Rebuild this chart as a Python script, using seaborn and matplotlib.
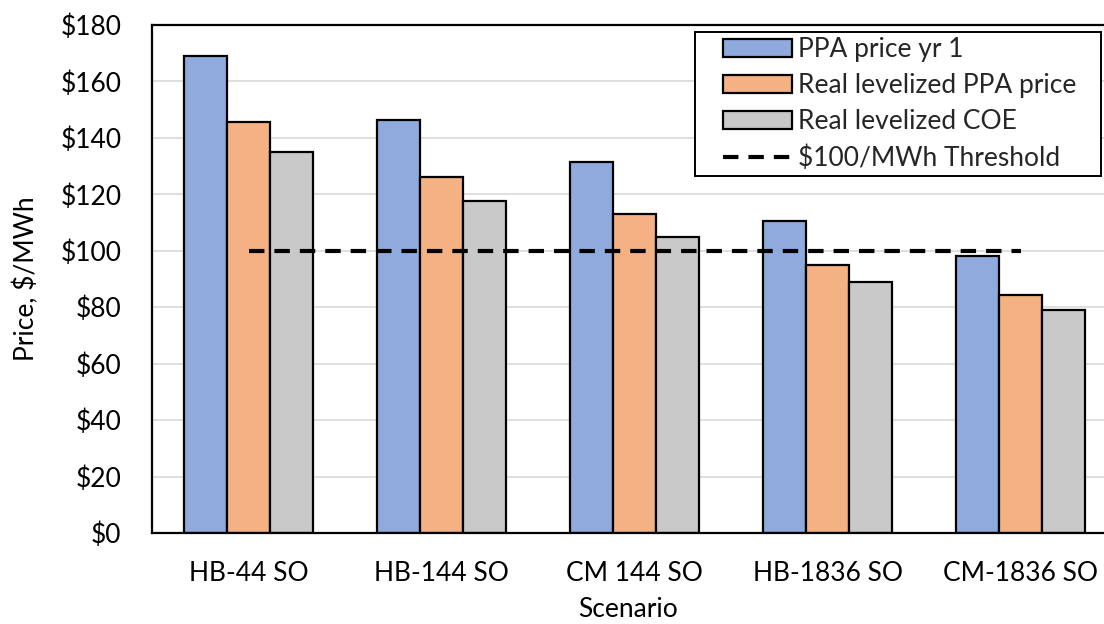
import numpy as np
import pandas as pd
import matplotlib
matplotlib.use("Agg")
import matplotlib.pyplot as plt
from matplotlib.legend_handler import HandlerPatch, HandlerLine2D
import seaborn as sns

# Scenario results, $/MWh
scenarios = ["HB-44 SO", "HB-144 SO", "CM 144 SO", "HB-1836 SO", "CM-1836 SO"]
ppa_price_yr1 = [169, 146.5, 131.5, 110.5, 98]
real_levelized_ppa = [145.5, 126, 113, 95, 84.5]
real_levelized_coe = [135, 117.5, 105, 89, 79]
threshold = [100, 100, 100, 100, 100]

series_names = ["PPA price yr 1", "Real levelized PPA price", "Real levelized COE"]
series_colors = ["#8FAADC", "#F4B183", "#C9C9C9"]
yticks = [0, 20, 40, 60, 80, 100, 120, 140, 160, 180]

df = pd.DataFrame({
    "Scenario": scenarios * 3,
    "Price": ppa_price_yr1 + real_levelized_ppa + real_levelized_coe,
    "Series": [s for s in series_names for _ in scenarios],
})

sns.set_theme(style="white")
plt.rcParams["font.family"] = ["Lato", "DejaVu Sans"]
FS = 19

fig = plt.figure(figsize=(11.04, 6.24), dpi=100)
ax = fig.add_axes([152 / 1104, 91 / 624, 952 / 1104, 508 / 624])

sns.barplot(data=df, x="Scenario", y="Price", hue="Series",
            palette=series_colors, width=0.668, gap=0,
            edgecolor="black", linewidth=1.6, saturation=1,
            errorbar=None, ax=ax, zorder=2)

sns.lineplot(x=np.arange(len(scenarios)), y=threshold, color="black",
             linewidth=3, ax=ax, zorder=3, dashes=False)
thr_line = ax.lines[-1]
thr_line.set_dashes((3.7, 2.4))
thr_line.set_label("$100/MWh Threshold")

ax.set_xlim(-0.5, -0.5 + 952 / 193.1)
ax.set_ylim(0, 180)
ax.set_yticks(yticks)
ax.set_yticklabels([f"${v}" for v in yticks])
ax.yaxis.grid(True, color="#D9D9D9", linewidth=1.2, zorder=0)
ax.set_axisbelow(True)

for side in ["left", "bottom", "top"]:
    ax.spines[side].set_color("black")
    ax.spines[side].set_linewidth(1.6)
ax.spines["right"].set_visible(False)

ax.tick_params(axis="both", length=0, labelsize=FS, colors="black")
ax.tick_params(axis="x", pad=20)
ax.tick_params(axis="y", pad=22)

ax.set_xlabel("Scenario", fontsize=FS, color="black", labelpad=8)
ax.set_ylabel("Price, $/MWh", fontsize=FS, color="black", labelpad=15)

handles, labels = ax.get_legend_handles_labels()
order = series_names + ["$100/MWh Threshold"]
hmap = dict(zip(labels, handles))
legend_handles = [hmap[l] for l in order]

shift = 0.86
handler_map = {h: HandlerPatch(xpad=shift) for h in legend_handles[:3]}
handler_map[legend_handles[3]] = HandlerLine2D(xpad=shift)

# legend box spans a fixed region in figure coordinates
box_x0, box_x1 = 695 / 1104, 1101 / 1104
box_top = (624 - 32) / 624
leg = ax.legend(legend_handles, order, loc="upper left", mode="expand",
                bbox_to_anchor=(box_x0, box_top - 0.01, box_x1 - box_x0, 0.01),
                bbox_transform=fig.transFigure, fontsize=FS,
                frameon=True, fancybox=False, framealpha=1,
                edgecolor="black", handlelength=2.6 + shift, handleheight=0.7,
                handletextpad=0.25, labelspacing=0.42, borderpad=0.2,
                borderaxespad=0, handler_map=handler_map)
leg.get_frame().set_linewidth(1.4)

fig.savefig("out.png", dpi=100)
